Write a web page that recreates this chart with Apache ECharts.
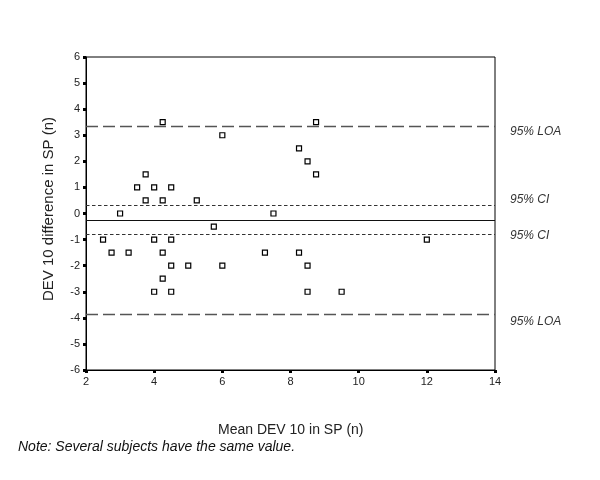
<!DOCTYPE html>
<html>
<head>
<meta charset="utf-8">
<script src="https://cdn.jsdelivr.net/npm/echarts@6/dist/echarts.min.js"></script>
<style>html,body{margin:0;padding:0;background:#fff}#c{width:600px;height:480px}</style>
</head>
<body>
<div id="c"></div>
<script>
// Data
var meanX = [4.25, 6, 8.75, 8.25, 8.5, 8.75, 3.75, 3.5, 4, 4.5, 3.75, 4.25, 5.25, 3, 7.5, 5.75,
             2.5, 4, 4.5, 12, 2.75, 3.25, 4.25, 7.25, 8.25, 4.5, 5, 6, 8.5, 4.25, 4, 4.5, 8.5, 9.5];
var diffY = [3.5, 3, 3.5, 2.5, 2, 1.5, 1.5, 1, 1, 1, 0.5, 0.5, 0.5, 0, 0, -0.5,
             -1, -1, -1, -1, -1.5, -1.5, -1.5, -1.5, -1.5, -2, -2, -2, -2, -2.5, -3, -3, -3, -3];
var refNames = ['95% LOA', '95% CI', '', '95% CI', '95% LOA'];
var refValues = [3.36, 0.30, -0.26, -0.80, -3.88];
var xTicks = [2, 4, 6, 8, 10, 12, 14];
var yTicks = [-6, -5, -4, -3, -2, -1, 0, 1, 2, 3, 4, 5, 6];

var FONT = 'Liberation Sans, Arial, sans-serif';
var points = meanX.map(function (x, i) { return [x, diffY[i]]; });

var styles = [
  {type: [12, 5], color: '#555', width: 1.4, dy: 6},
  {type: [3.5, 2.5], color: '#333', width: 1.2, dy: -6},
  {type: 'solid', color: '#111', width: 1.2, dy: 0},
  {type: [3.5, 2.5], color: '#333', width: 1.2, dy: 1},
  {type: [12, 5], color: '#555', width: 1.4, dy: 7}
];
var markData = refValues.map(function (v, i) {
  var s = styles[i];
  return {
    yAxis: v,
    lineStyle: {type: s.type, color: s.color, width: s.width},
    label: {
      show: refNames[i] !== '',
      formatter: refNames[i],
      position: 'end',
      distance: 15,
      offset: [0, s.dy],
      fontStyle: 'italic',
      fontFamily: FONT,
      fontSize: 12,
      color: '#333'
    }
  };
});

var chart = echarts.init(document.getElementById('c'), null, {renderer: 'canvas'});
chart.setOption({
  animation: false,
  backgroundColor: '#fff',
  grid: {left: 86, right: 105, top: 57, bottom: 110, show: true, borderColor: '#000', borderWidth: 1, backgroundColor: 'transparent'},
  xAxis: {
    type: 'value', min: xTicks[0], max: xTicks[xTicks.length - 1], interval: 2,
    axisLine: {show: true, onZero: false, lineStyle: {color: '#000', width: 1}},
    axisTick: {show: true, length: 3, lineStyle: {color: '#000', width: 3}},
    axisLabel: {color: '#222', fontFamily: FONT, fontSize: 11, margin: 6},
    splitLine: {show: false}
  },
  yAxis: {
    type: 'value', min: yTicks[0], max: yTicks[yTicks.length - 1], interval: 1,
    axisLine: {show: true, onZero: false, lineStyle: {color: '#000', width: 1}},
    axisTick: {show: true, length: 3, lineStyle: {color: '#000', width: 3}},
    axisLabel: {color: '#222', fontFamily: FONT, fontSize: 11, margin: 6},
    splitLine: {show: false}
  },
  graphic: [
    {type: 'text', left: 218, top: 423, style: {text: 'Mean DEV 10 in SP (n)', font: '14px ' + FONT, fill: '#222'}},
    {type: 'text', x: 49, y: 209, rotation: Math.PI / 2,
     style: {text: 'DEV 10 difference in SP (n)', font: '15px ' + FONT, fill: '#222', align: 'center', verticalAlign: 'middle'}},
    {type: 'text', left: 18, top: 440, style: {text: 'Note: Several subjects have the same value.', font: 'italic 14px ' + FONT, fill: '#111'}}
  ],
  series: [{
    type: 'scatter',
    data: points,
    symbol: 'rect',
    symbolSize: 5,
    itemStyle: {color: '#fff', borderColor: '#000', borderWidth: 1.2, opacity: 1},
    markLine: {silent: true, symbol: 'none', animation: false, data: markData}
  }]
});
</script>
</body>
</html>
